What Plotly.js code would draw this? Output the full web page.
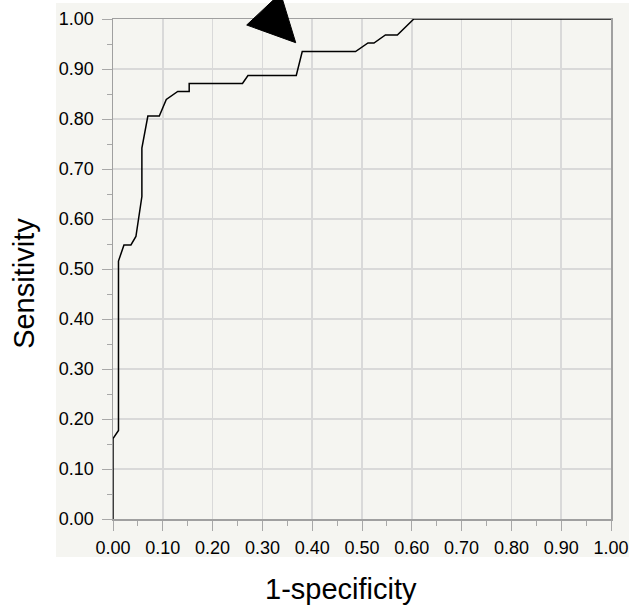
<!DOCTYPE html>
<html>
<head>
<meta charset="utf-8">
<script src="https://cdn.plot.ly/plotly-3.0.1.min.js"></script>
<style>html,body{margin:0;padding:0;background:#fff;}#chart{width:629px;height:609px;}</style>
</head>
<body>
<div id="chart"></div>
<script>
// ROC curve points (1-specificity, sensitivity)
const fpr = [0, 0, 0.011, 0.011, 0.022, 0.036, 0.046, 0.058, 0.058, 0.070, 0.093, 0.107, 0.130, 0.153, 0.153, 0.260, 0.271, 0.368, 0.380, 0.487, 0.512, 0.524, 0.547, 0.571, 0.604, 1.0];
const tpr = [0, 0.161, 0.177, 0.516, 0.548, 0.548, 0.565, 0.645, 0.742, 0.806, 0.806, 0.839, 0.855, 0.855, 0.871, 0.871, 0.887, 0.887, 0.935, 0.935, 0.952, 0.952, 0.968, 0.968, 1.0, 1.0];
const tickVals = [0, 0.1, 0.2, 0.3, 0.4, 0.5, 0.6, 0.7, 0.8, 0.9, 1.0];
const tickText = ["0.00","0.10","0.20","0.30","0.40","0.50","0.60","0.70","0.80","0.90","1.00"];
const xTitle = "1-specificity";
const yTitle = "Sensitivity";

const font = "Liberation Sans, Arial, Helvetica, sans-serif";
const axisCommon = {
  range: [0, 1],
  tickmode: "array",
  tickvals: tickVals,
  ticktext: tickText,
  ticks: "outside",
  ticklen: 10,
  tickwidth: 1,
  tickcolor: "#a8a8a8",
  showline: true,
  linecolor: "#a0a0a0",
  linewidth: 1.5,
  mirror: true,
  showgrid: true,
  gridcolor: "#d9d9d9",
  gridwidth: 1.5,
  zeroline: false,
  tickfont: {family: font, size: 18, color: "#000"},
  minor: {ticks: "outside", ticklen: 5, tickcolor: "#a8a8a8", dtick: 0.05, tick0: 0, showgrid: false},
  fixedrange: true
};

const data = [{
  x: fpr, y: tpr, type: "scatter", mode: "lines",
  line: {color: "#000", width: 1.5, shape: "linear"},
  hoverinfo: "none", showlegend: false
}];

const layout = {
  width: 629, height: 609,
  margin: {l: 113, r: 18, t: 19, b: 90, pad: 0},
  paper_bgcolor: "#ffffff",
  plot_bgcolor: "#ffffff",
  xaxis: Object.assign({}, axisCommon, {ticklabelstandoff: 2}),
  yaxis: Object.assign({}, axisCommon, {ticklabelstandoff: 4}),
  shapes: [
    {type: "rect", xref: "paper", yref: "paper", x0: -0.1145, x1: 1.04, y0: -0.076, y1: 1.032,
     fillcolor: "#f5f5f1", line: {width: 0}, layer: "below"},
    {type: "path", xref: "paper", yref: "paper",
     path: "M 0.2685 0.988 L 0.3669 0.9526 L 0.3365 1.0516 Z",
     fillcolor: "#000", line: {color: "#000", width: 1}, layer: "above"}
  ],
  annotations: [
    {text: xTitle, xref: "paper", yref: "paper", x: 0.458, y: -0.14, xanchor: "center", yanchor: "middle",
     showarrow: false, font: {family: font, size: 29, color: "#000"}},
    {text: yTitle, xref: "paper", yref: "paper", x: -0.179, y: 0.472, xanchor: "center", yanchor: "middle",
     textangle: -90, showarrow: false, font: {family: font, size: 29, color: "#000"}}
  ]
};

Plotly.newPlot("chart", data, layout, {staticPlot: true, displayModeBar: false});
</script>
</body>
</html>
